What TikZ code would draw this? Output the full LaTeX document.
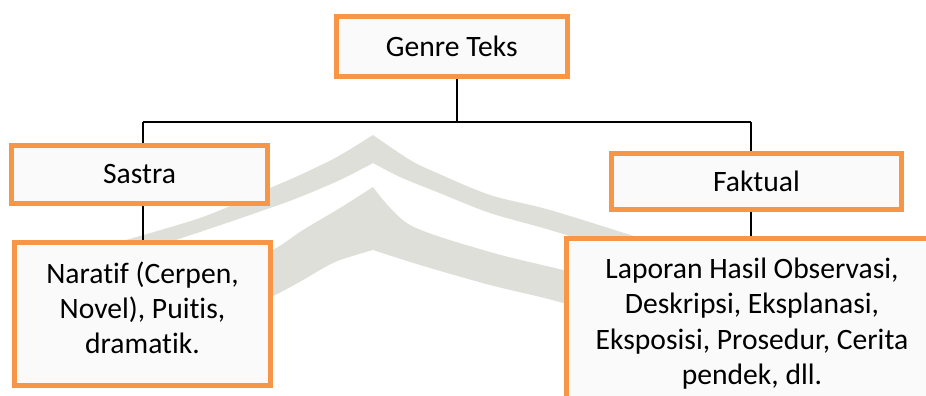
\documentclass[tikz,border=0pt]{standalone}
\usepackage{fontspec}
\setmainfont{Carlito}[Ligatures=NoCommon]
\definecolor{boxorange}{HTML}{F79646}
\definecolor{boxfill}{HTML}{FAFAFA}
\definecolor{wmark}{RGB}{223,223,217}
\begin{document}
\begin{tikzpicture}[x=1pt,y=-1pt,
  box/.style={draw=boxorange, line width=5pt, fill=boxfill, inner sep=0pt, align=center,
    font=\fontsize{29.6}{35.3}\selectfont},
  conn/.style={draw=black, line width=1.6pt},
  wm/.style={fill=wmark}]
\useasboundingbox (0,0) rectangle (926,396);
\clip (0,0) rectangle (926,396);
\fill[white] (0,0) rectangle (926,396);
% faint watermark arches
\fill[wm] plot[smooth] coordinates {(90,250) (200,218) (270,188) (300,175) (337,157) (373,135)}
  -- plot[smooth] coordinates {(373,135) (410,160) (437,173) (490,195) (550,210) (640,238)}
  -- plot[smooth] coordinates {(640,258) (550,230) (490,213) (437,192) (400,177) (373,163)}
  -- plot[smooth] coordinates {(373,163) (340,180) (300,197) (270,208) (200,232) (90,268)} -- cycle;
\fill[wm] plot[smooth] coordinates {(200,290) (273,250) (303,230) (340,208) (373,187)}
  -- plot[smooth] coordinates {(373,187) (410,225) (490,252) (563,270) (640,290)}
  -- plot[smooth] coordinates {(640,330) (563,303) (490,285) (420,265) (373,250)}
  -- plot[smooth] coordinates {(373,250) (335,262) (303,280) (273,296) (200,330)} -- cycle;
% boxes
\node[box, minimum width=230.5pt, minimum height=60pt] (genre) at (451.75,46.5) {Genre Teks};
\node[box, minimum width=256pt, minimum height=58pt] (sastra) at (139.5,174.5) {Sastra};
\node[box, minimum width=256pt, minimum height=143pt] (naratif) at (142.5,314) {Naratif (Cerpen,\\Novel), Puitis,\\dramatik.\rule[-13pt]{0pt}{13pt}};
\node[box, minimum width=290pt, minimum height=56pt] (faktual) at (756.5,181.5) {Faktual};
\node[box, minimum width=371pt, minimum height=171pt] (laporan) at (752,323.5) {Laporan Hasil Observasi,\\Deskripsi, Eksplanasi,\\Eksposisi, Prosedur, Cerita\\pendek, dll.};
% connectors
\coordinate (split) at (456.7,122);
\coordinate (lx) at (143,122);
\coordinate (rx) at (751,122);
\draw[conn] (split |- genre.south) -- (split);
\draw[conn] (lx) -- (rx);
\draw[conn] (lx) -- (lx |- sastra.north);
\draw[conn] (lx |- sastra.south) -- (lx |- naratif.north);
\draw[conn] (rx) -- (rx |- faktual.north);
\draw[conn] (rx |- faktual.south) -- (rx |- laporan.north);
\end{tikzpicture}
\end{document}
